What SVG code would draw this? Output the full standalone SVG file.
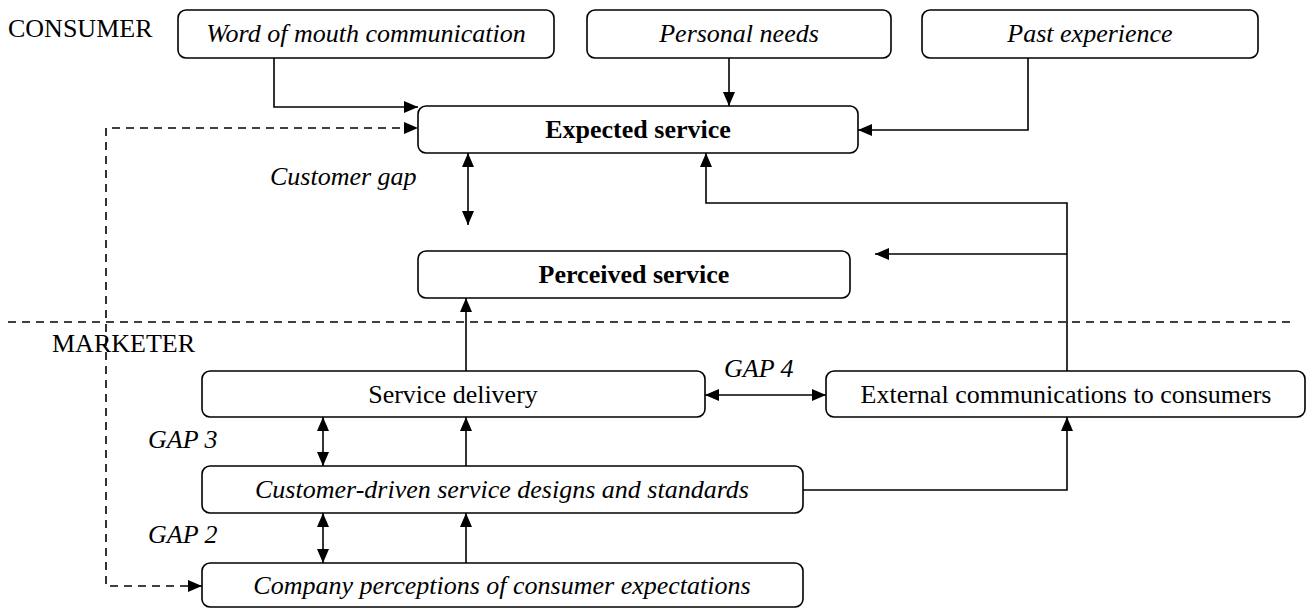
<svg xmlns="http://www.w3.org/2000/svg" width="1308" height="608" viewBox="0 0 1308 608">
<defs>
<style>
.box{fill:#fff;stroke:#000;stroke-width:1.6}
.t{font-family:"Liberation Serif","Times New Roman",serif;font-size:26px;fill:#000}
.i{font-style:italic}
.b{font-weight:bold}
.c{text-anchor:middle}
.ln{fill:none;stroke:#000;stroke-width:1.6}
.dash{fill:none;stroke:#000;stroke-width:1.6;stroke-dasharray:8 6}
</style>
<marker id="ah" viewBox="0 0 14 12" refX="14" refY="6" markerWidth="14" markerHeight="12" markerUnits="userSpaceOnUse" orient="auto-start-reverse">
<path d="M0,0 L14,6 L0,12 z" fill="#000"/>
</marker>
</defs>
<rect width="1308" height="608" fill="#fff"/>
<text class="t" x="8" y="37">CONSUMER</text>
<text class="t" x="52" y="352">MARKETER</text>
<g id="connectors">
<line class="dash" x1="8" y1="322" x2="1294" y2="322"/>
<path class="ln" d="M274,58 V107 H418" marker-end="url(#ah)"/>
<path class="ln" d="M729,58 V106" marker-end="url(#ah)"/>
<path class="ln" d="M1028,58 V130 H858" marker-end="url(#ah)"/>
<path class="dash" d="M202,586 H106 V128 H418" marker-start="url(#ah)" marker-end="url(#ah)"/>
<path class="ln" d="M468,153 V225" marker-start="url(#ah)" marker-end="url(#ah)"/>
<path class="ln" d="M1067,371 V203 H706 V153" marker-end="url(#ah)"/>
<path class="ln" d="M1067,254 H875" marker-end="url(#ah)"/>
<path class="ln" d="M466,371 V298" marker-end="url(#ah)"/>
<path class="ln" d="M705,395 H826" marker-start="url(#ah)" marker-end="url(#ah)"/>
<path class="ln" d="M323,417 V466" marker-start="url(#ah)" marker-end="url(#ah)"/>
<path class="ln" d="M466,466 V417" marker-end="url(#ah)"/>
<path class="ln" d="M323,513 V563" marker-start="url(#ah)" marker-end="url(#ah)"/>
<path class="ln" d="M466,563 V513" marker-end="url(#ah)"/>
<path class="ln" d="M803,490 H1067 V417" marker-end="url(#ah)"/>
<text class="t i" x="270" y="185">Customer gap</text>
<text class="t i" x="724" y="377">GAP 4</text>
<text class="t i" x="148" y="448">GAP 3</text>
<text class="t i" x="148" y="543">GAP 2</text>
</g>
<g id="wom"><rect class="box" x="178" y="10" width="376" height="48" rx="8"/><text class="t i c" x="366" y="42">Word of mouth communication</text></g>
<g id="personal"><rect class="box" x="587" y="10" width="304" height="48" rx="8"/><text class="t i c" x="739" y="42">Personal needs</text></g>
<g id="past"><rect class="box" x="922" y="10" width="336" height="48" rx="8"/><text class="t i c" x="1090" y="42">Past experience</text></g>
<g id="expected"><rect class="box" x="418" y="106" width="440" height="47" rx="8"/><text class="t b c" x="638" y="138">Expected service</text></g>
<g id="perceived"><rect class="box" x="418" y="251" width="432" height="47" rx="8"/><text class="t b c" x="634" y="283">Perceived service</text></g>
<g id="delivery"><rect class="box" x="202" y="371" width="503" height="46" rx="8"/><text class="t c" x="453" y="403">Service delivery</text></g>
<g id="external"><rect class="box" x="826" y="371" width="479" height="46" rx="8"/><text class="t c" x="1066" y="403">External communications to consumers</text></g>
<g id="designs"><rect class="box" x="202" y="466" width="601" height="47" rx="8"/><text class="t i c" x="502" y="498">Customer-driven service designs and standards</text></g>
<g id="company"><rect class="box" x="202" y="563" width="601" height="44" rx="8"/><text class="t i c" x="502" y="594">Company perceptions of consumer expectations</text></g>
</svg>
